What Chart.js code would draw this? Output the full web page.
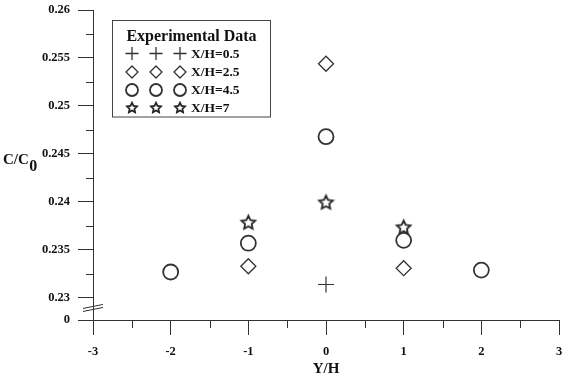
<!DOCTYPE html>
<html><head><meta charset="utf-8">
<script src="https://cdn.jsdelivr.net/npm/chart.js@4/dist/chart.umd.min.js"></script>
<style>html,body{margin:0;padding:0;background:#fff;}#wrap{width:569px;height:382px;}</style>
</head><body><div id="wrap"><canvas id="c" width="569" height="382"></canvas></div>
<script>
// ---- data ----
const seriesLabels = ['X/H=0.5', 'X/H=2.5', 'X/H=4.5', 'X/H=7'];
const yhA = [0];               const ccA = [0.2314];
const yhB = [-1, 0, 1];        const ccB = [0.2333, 0.2544, 0.2331];
const yhC = [-2, -1, 0, 1, 2]; const ccC = [0.2327, 0.2357, 0.2468, 0.2360, 0.2329];
const yhD = [-1, 0, 1];        const ccD = [0.2379, 0.2400, 0.2374];
const xTicks = [-3, -2, -1, 0, 1, 2, 3];
const xMinorTicks = [-2.5, -1.5, -0.5, 0.5, 1.5, 2.5];
const yTicks = [0.23, 0.235, 0.24, 0.245, 0.25, 0.255, 0.26];
const yMinorTicks = [0.2325, 0.2375, 0.2425, 0.2475, 0.2525, 0.2575];
const yBreakPos = 0.2277;      // position on the broken axis that stands for 0
const yBreakLabel = '0';
const legendTitle = 'Experimental Data';
const xTitle = 'Y/H';
const yTitleMain = 'C/C', yTitleSub = '0';

const FONT = "'Liberation Serif', 'Times New Roman', serif";
const INK = '#333';

function starPath(ctx, x, y, R) {
  const r = R * 0.48;
  ctx.beginPath();
  for (let i = 0; i < 10; i++) {
    const a = -Math.PI / 2 + i * Math.PI / 5;
    const rr = i % 2 === 0 ? R : r;
    const px = x + rr * Math.cos(a), py = y + rr * Math.sin(a);
    if (i === 0) ctx.moveTo(px, py); else ctx.lineTo(px, py);
  }
  ctx.closePath();
}
function makeStar(R) {
  const s = Math.ceil(R * 2 + 4);
  const cv = document.createElement('canvas');
  cv.width = s; cv.height = s;
  const g = cv.getContext('2d');
  starPath(g, s / 2, s / 2 + 0.8, R);
  g.lineWidth = 1.8; g.strokeStyle = '#222'; g.lineJoin = 'miter';
  g.stroke();
  return cv;
}
const starImg = makeStar(7.2);

function drawSym(ctx, style, x, y, r) {
  ctx.save();
  ctx.strokeStyle = INK; ctx.lineWidth = 1.3;
  ctx.beginPath();
  if (style === 'cross') {
    ctx.moveTo(x - r, y); ctx.lineTo(x + r, y);
    ctx.moveTo(x, y - r); ctx.lineTo(x, y + r);
    ctx.stroke();
  } else if (style === 'rectRot') {
    ctx.moveTo(x - r, y); ctx.lineTo(x, y - r); ctx.lineTo(x + r, y); ctx.lineTo(x, y + r); ctx.closePath();
    ctx.stroke();
  } else if (style === 'circle') {
    ctx.arc(x, y, r, 0, Math.PI * 2);
    ctx.lineWidth = 1.8;
    ctx.stroke();
  } else {
    starPath(ctx, x, y + 0.5, r);
    ctx.lineWidth = 1.7; ctx.strokeStyle = '#222';
    ctx.stroke();
  }
  ctx.restore();
}

const pts = (xs, ys) => xs.map((x, i) => ({ x: x, y: ys[i] }));
const legendStyles = ['cross', 'rectRot', 'circle', 'star'];
const legendSizes = [6.5, 6, 6, 5.3];

const datasets = [
  { label: seriesLabels[0], data: pts(yhA, ccA), pointStyle: 'cross',   pointRadius: 8,   borderWidth: 1.2 },
  { label: seriesLabels[1], data: pts(yhB, ccB), pointStyle: 'rectRot', pointRadius: 7.5, borderWidth: 1.3 },
  { label: seriesLabels[2], data: pts(yhC, ccC), pointStyle: 'circle',  pointRadius: 7.5, borderWidth: 1.8 },
  { label: seriesLabels[3], data: pts(yhD, ccD), pointStyle: starImg,   pointRadius: 8,   borderWidth: 1.3 }
].map(d => Object.assign(d, { showLine: false, borderColor: INK, backgroundColor: 'rgba(0,0,0,0)', pointHoverRadius: d.pointRadius }));

const extras = {
  id: 'extras',
  afterDraw(chart) {
    const ctx = chart.ctx, xs = chart.scales.x, ys = chart.scales.y, ca = chart.chartArea;
    ctx.save();
    ctx.strokeStyle = INK; ctx.lineWidth = 1;
    // minor ticks
    xMinorTicks.forEach(v => {
      const px = Math.round(xs.getPixelForValue(v)) + 0.5;
      ctx.beginPath(); ctx.moveTo(px, ca.bottom); ctx.lineTo(px, ca.bottom + 8); ctx.stroke();
    });
    yMinorTicks.forEach(v => {
      const py = Math.round(ys.getPixelForValue(v)) + 0.5;
      ctx.beginPath(); ctx.moveTo(ca.left - 7, py); ctx.lineTo(ca.left, py); ctx.stroke();
    });
    // axis break marks
    const yb = (ys.getPixelForValue(0.23) + ys.getPixelForValue(yBreakPos)) / 2 - 3;
    ctx.lineWidth = 1;
    [0, 3].forEach(d => {
      ctx.beginPath();
      ctx.moveTo(ca.left - 10, yb + d + 2.5);
      ctx.lineTo(ca.left + 10, yb + d - 1.5);
      ctx.stroke();
    });
    // y title with subscript
    ctx.fillStyle = '#111';
    ctx.textBaseline = 'middle'; ctx.textAlign = 'left';
    ctx.font = 'bold 15px ' + FONT;
    const yt = ys.getPixelForValue(0.2444);
    ctx.fillText(yTitleMain, 3, yt);
    const w = ctx.measureText(yTitleMain).width;
    ctx.font = 'bold 16px ' + FONT;
    ctx.fillText(yTitleSub, 3 + w + 0.5, yt + 7);
    // legend
    const bx = 112.5, by = 20.5, bw = 158, bh = 96.5;
    ctx.fillStyle = '#fff';
    ctx.fillRect(bx, by, bw, bh);
    ctx.strokeStyle = '#444'; ctx.lineWidth = 1;
    ctx.strokeRect(bx, by, bw, bh);
    ctx.fillStyle = '#111';
    ctx.font = 'bold 16px ' + FONT;
    ctx.textAlign = 'center';
    ctx.fillText(legendTitle, bx + bw / 2, by + 16.5);
    ctx.font = 'bold 13.5px ' + FONT;
    ctx.textAlign = 'left';
    const rowsY = [53.5, 72, 90, 107.5];
    const symX = [132, 156, 180];
    seriesLabels.forEach((lab, i) => {
      symX.forEach(sx => drawSym(ctx, legendStyles[i], sx, rowsY[i], legendSizes[i]));
      ctx.fillText(lab, 191, rowsY[i] + 1);
    });
    ctx.restore();
  }
};

new Chart(document.getElementById('c'), {
  type: 'scatter',
  data: { datasets: datasets },
  options: {
    responsive: false,
    devicePixelRatio: 1,
    animation: false,
    layout: { padding: { top: 10, right: 10, left: 0, bottom: 0 } },
    plugins: { legend: { display: false }, tooltip: { enabled: false } },
    scales: {
      x: {
        type: 'linear', min: -3, max: 3,
        afterBuildTicks: s => { s.ticks = xTicks.map(v => ({ value: v })); },
        afterFit: s => { s.height = 62; s.paddingLeft = 0; s.paddingRight = 0; },
        grid: { drawOnChartArea: false, tickLength: 15, color: INK, lineWidth: 1 },
        border: { display: true, color: INK, width: 1 },
        ticks: { padding: 9, color: '#111', font: { family: FONT, size: 12.5, weight: 'bold' }, maxRotation: 0,
                 callback: v => String(v) },
        title: { display: true, text: xTitle, color: '#111', font: { family: FONT, size: 15, weight: 'bold' }, padding: { top: 0, bottom: 4 } }
      },
      y: {
        type: 'linear', min: yBreakPos, max: 0.26,
        afterBuildTicks: s => { s.ticks = [yBreakPos].concat(yTicks).map(v => ({ value: v })); },
        afterFit: s => { s.width = 93; s.paddingTop = 0; s.paddingBottom = 0; },
        grid: { drawOnChartArea: false, tickLength: 15, color: INK, lineWidth: 1 },
        border: { display: true, color: INK, width: 1 },
        ticks: { padding: 8, color: '#111', font: { family: FONT, size: 12.5, weight: 'bold' },
                 callback: v => (Math.abs(v - yBreakPos) < 1e-9 ? yBreakLabel : String(Number(v.toFixed(3)))) }
      }
    }
  },
  plugins: [extras]
});
</script>
</body></html>
